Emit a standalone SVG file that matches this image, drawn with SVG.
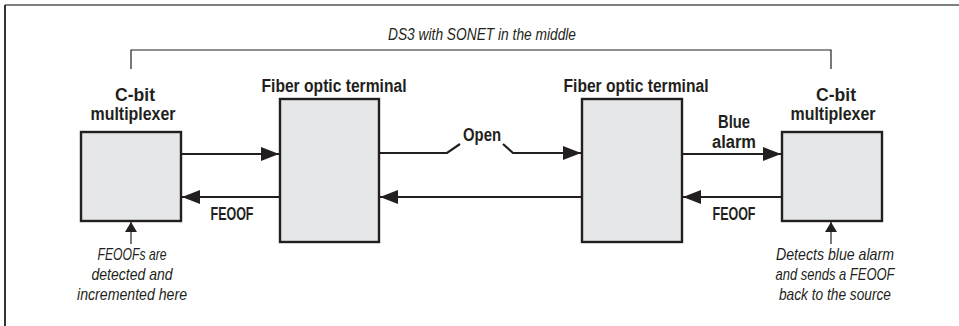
<svg xmlns="http://www.w3.org/2000/svg" width="959" height="326" viewBox="0 0 959 326">
<defs>
<style>
.box{fill:#e6e7e8;stroke:#231f20;stroke-width:2.4}
.ln{fill:none;stroke:#231f20;stroke-width:2.2}
.thin{fill:none;stroke:#231f20;stroke-width:1.2}
.lbl{font-family:"Liberation Sans",Arial,sans-serif;font-weight:bold;font-size:17.5px;fill:#231f20;text-anchor:middle}
.it{font-family:"Liberation Sans",Arial,sans-serif;font-style:italic;font-size:17px;fill:#231f20;text-anchor:middle}
</style>
<marker id="ah" markerWidth="18" markerHeight="14" refX="18" refY="7" orient="auto" markerUnits="userSpaceOnUse">
<path d="M0,0 L18,7 L0,14 Z" fill="#231f20"/>
</marker>
<marker id="ahs" markerWidth="10" markerHeight="12" refX="10" refY="6" orient="auto" markerUnits="userSpaceOnUse">
<path d="M0,0 L10,6 L0,12 Z" fill="#231f20"/>
</marker>
</defs>
<rect width="959" height="326" fill="#ffffff"/>
<g id="frame">
<line x1="5" y1="5" x2="959" y2="5" stroke="#808080" stroke-width="2"/>
<line x1="5" y1="5" x2="5" y2="326" stroke="#333333" stroke-width="2"/>
</g>
<g id="span">
<path class="thin" d="M131,69 V50 H831 V69"/>
<text class="it" x="482" y="40" textLength="188" lengthAdjust="spacingAndGlyphs">DS3 with SONET in the middle</text>
</g>
<g id="mux-left">
<rect class="box" x="81" y="132" width="100" height="89"/>
<text class="lbl" x="135" y="101" textLength="40" lengthAdjust="spacingAndGlyphs">C-bit</text>
<text class="lbl" x="133" y="120" textLength="85" lengthAdjust="spacingAndGlyphs">multiplexer</text>
</g>
<g id="fot-left">
<rect class="box" x="280" y="99" width="99" height="143"/>
<text class="lbl" x="334" y="92" textLength="145" lengthAdjust="spacingAndGlyphs">Fiber optic terminal</text>
</g>
<g id="fot-right">
<rect class="box" x="582" y="99" width="100" height="143"/>
<text class="lbl" x="636" y="92" textLength="145" lengthAdjust="spacingAndGlyphs">Fiber optic terminal</text>
</g>
<g id="mux-right">
<rect class="box" x="782" y="132" width="100" height="89"/>
<text class="lbl" x="836" y="101" textLength="40" lengthAdjust="spacingAndGlyphs">C-bit</text>
<text class="lbl" x="833" y="120" textLength="85" lengthAdjust="spacingAndGlyphs">multiplexer</text>
</g>
<g id="connectors">
<line class="ln" x1="182" y1="154" x2="279" y2="154" marker-end="url(#ah)"/>
<path class="ln" d="M380,153 H447 L460,144"/>
<path class="ln" d="M503,144 L513,153 H581" marker-end="url(#ah)"/>
<line class="ln" x1="683" y1="154" x2="781" y2="154" marker-end="url(#ah)"/>
<line class="ln" x1="781" y1="197" x2="683" y2="197" marker-end="url(#ah)"/>
<line class="ln" x1="581" y1="197" x2="380" y2="197" marker-end="url(#ah)"/>
<line class="ln" x1="279" y1="197" x2="182" y2="197" marker-end="url(#ah)"/>
<line class="thin" x1="131" y1="244" x2="131" y2="222" marker-end="url(#ahs)"/>
<line class="thin" x1="831" y1="244" x2="831" y2="222" marker-end="url(#ahs)"/>
<text class="lbl" x="482" y="141" textLength="38" lengthAdjust="spacingAndGlyphs">Open</text>
<text class="lbl" x="734" y="128" textLength="32" lengthAdjust="spacingAndGlyphs">Blue</text>
<text class="lbl" x="734" y="148" textLength="44" lengthAdjust="spacingAndGlyphs">alarm</text>
<text class="lbl" x="232" y="220" textLength="43" lengthAdjust="spacingAndGlyphs">FEOOF</text>
<text class="lbl" x="734" y="220" textLength="43" lengthAdjust="spacingAndGlyphs">FEOOF</text>
</g>
<g id="note-left">
<text class="it" x="132" y="260" textLength="69" lengthAdjust="spacingAndGlyphs">FEOOFs are</text>
<text class="it" x="132" y="280" textLength="81" lengthAdjust="spacingAndGlyphs">detected and</text>
<text class="it" x="132" y="300" textLength="110" lengthAdjust="spacingAndGlyphs">incremented here</text>
</g>
<g id="note-right">
<text class="it" x="835" y="260" textLength="118" lengthAdjust="spacingAndGlyphs">Detects blue alarm</text>
<text class="it" x="835" y="280" textLength="119" lengthAdjust="spacingAndGlyphs">and sends a FEOOF</text>
<text class="it" x="835" y="300" textLength="112" lengthAdjust="spacingAndGlyphs">back to the source</text>
</g>
</svg>
